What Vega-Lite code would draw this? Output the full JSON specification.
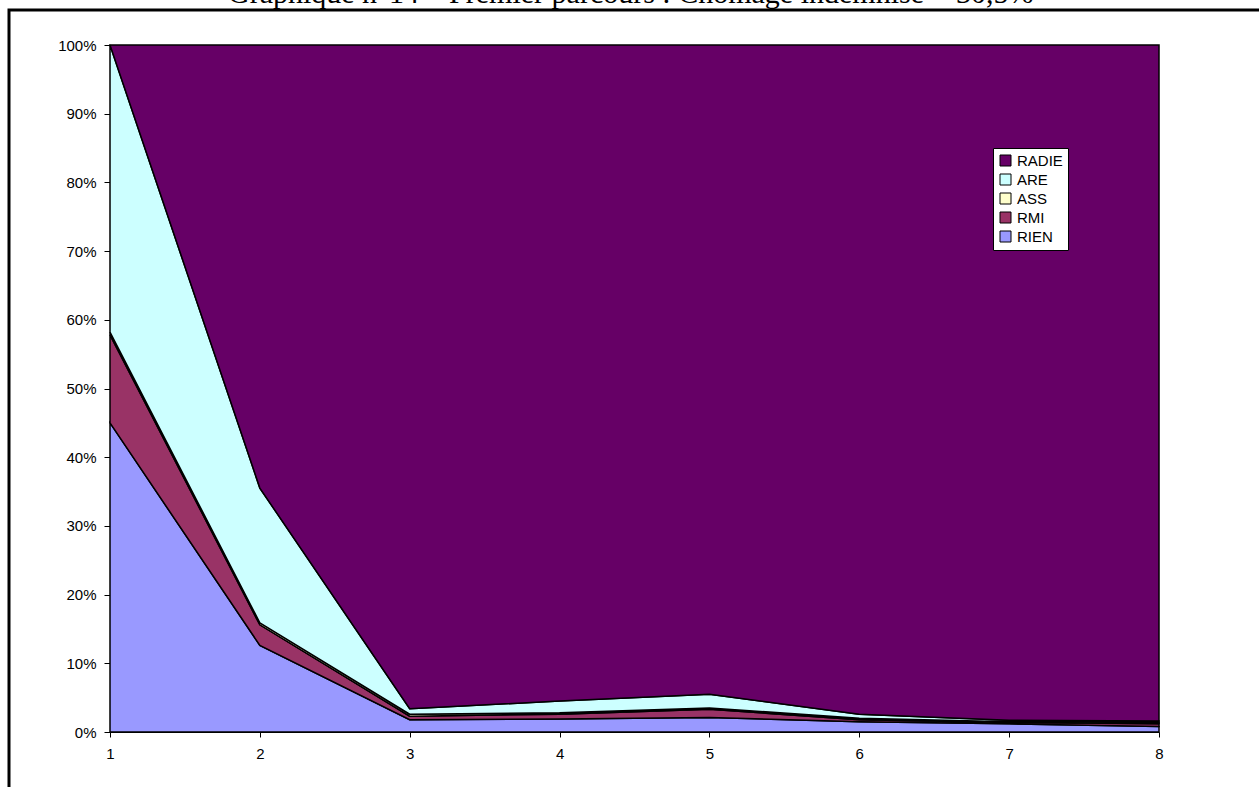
{
  "$schema": "https://vega.github.io/schema/vega-lite/v6.json",
  "width": 1300,
  "height": 800,
  "autosize": {"type": "none"},
  "padding": {"left": 9, "top": 10, "right": 0, "bottom": 0},
  "background": "white",
  "title": {
    "text": "Graphique n°14 – Premier parcours : Chômage indemnisé = 30,5%",
    "font": "Liberation Serif",
    "fontSize": 30,
    "fontWeight": "normal",
    "color": "black",
    "anchor": "start",
    "baseline": "alphabetic",
    "offset": 0,
    "dy": 23,
    "dx": 219
  },
  "data": {
    "values": [
      {"x": 1, "statut": "RIEN", "ordre": 1, "pct": 45.0},
      {"x": 1, "statut": "RMI", "ordre": 2, "pct": 12.8},
      {"x": 1, "statut": "ASS", "ordre": 3, "pct": 0.4},
      {"x": 1, "statut": "ARE", "ordre": 4, "pct": 41.8},
      {"x": 1, "statut": "RADIE", "ordre": 5, "pct": 0.0},
      {"x": 2, "statut": "RIEN", "ordre": 1, "pct": 12.6},
      {"x": 2, "statut": "RMI", "ordre": 2, "pct": 3.0},
      {"x": 2, "statut": "ASS", "ordre": 3, "pct": 0.3},
      {"x": 2, "statut": "ARE", "ordre": 4, "pct": 19.6},
      {"x": 2, "statut": "RADIE", "ordre": 5, "pct": 64.5},
      {"x": 3, "statut": "RIEN", "ordre": 1, "pct": 1.8},
      {"x": 3, "statut": "RMI", "ordre": 2, "pct": 0.5},
      {"x": 3, "statut": "ASS", "ordre": 3, "pct": 0.3},
      {"x": 3, "statut": "ARE", "ordre": 4, "pct": 0.8},
      {"x": 3, "statut": "RADIE", "ordre": 5, "pct": 96.6},
      {"x": 4, "statut": "RIEN", "ordre": 1, "pct": 1.9},
      {"x": 4, "statut": "RMI", "ordre": 2, "pct": 0.7},
      {"x": 4, "statut": "ASS", "ordre": 3, "pct": 0.2},
      {"x": 4, "statut": "ARE", "ordre": 4, "pct": 1.7},
      {"x": 4, "statut": "RADIE", "ordre": 5, "pct": 95.5},
      {"x": 5, "statut": "RIEN", "ordre": 1, "pct": 2.1},
      {"x": 5, "statut": "RMI", "ordre": 2, "pct": 1.2},
      {"x": 5, "statut": "ASS", "ordre": 3, "pct": 0.2},
      {"x": 5, "statut": "ARE", "ordre": 4, "pct": 2.0},
      {"x": 5, "statut": "RADIE", "ordre": 5, "pct": 94.5},
      {"x": 6, "statut": "RIEN", "ordre": 1, "pct": 1.5},
      {"x": 6, "statut": "RMI", "ordre": 2, "pct": 0.3},
      {"x": 6, "statut": "ASS", "ordre": 3, "pct": 0.2},
      {"x": 6, "statut": "ARE", "ordre": 4, "pct": 0.6},
      {"x": 6, "statut": "RADIE", "ordre": 5, "pct": 97.4},
      {"x": 7, "statut": "RIEN", "ordre": 1, "pct": 1.2},
      {"x": 7, "statut": "RMI", "ordre": 2, "pct": 0.2},
      {"x": 7, "statut": "ASS", "ordre": 3, "pct": 0.1},
      {"x": 7, "statut": "ARE", "ordre": 4, "pct": 0.2},
      {"x": 7, "statut": "RADIE", "ordre": 5, "pct": 98.3},
      {"x": 8, "statut": "RIEN", "ordre": 1, "pct": 0.8},
      {"x": 8, "statut": "RMI", "ordre": 2, "pct": 0.4},
      {"x": 8, "statut": "ASS", "ordre": 3, "pct": 0.2},
      {"x": 8, "statut": "ARE", "ordre": 4, "pct": 0.2},
      {"x": 8, "statut": "RADIE", "ordre": 5, "pct": 98.4}
    ]
  },
  "mark": {"type": "area", "stroke": "black", "strokeWidth": 1.5, "interpolate": "linear", "opacity": 1, "fillOpacity": 1},
  "encoding": {
    "x": {
      "field": "x",
      "type": "quantitative",
      "scale": {"domain": [1, 8], "nice": false, "zero": false, "range": [101, 1150]},
      "axis": {
        "title": null,
        "values": [1, 2, 3, 4, 5, 6, 7, 8],
        "format": "d",
        "offset": -78,
        "grid": false,
        "tickSize": 5,
        "labelPadding": 9,
        "labelFont": "Liberation Sans",
        "labelFontSize": 15,
        "labelColor": "black",
        "domainColor": "black",
        "tickColor": "black",
        "labelFlush": false,
        "labelOverlap": false
      }
    },
    "y": {
      "field": "pct",
      "type": "quantitative",
      "stack": "zero",
      "scale": {"domain": [0, 100], "nice": false, "range": [722, 35]},
      "axis": {
        "title": null,
        "values": [0, 10, 20, 30, 40, 50, 60, 70, 80, 90, 100],
        "labelExpr": "datum.value + '%'",
        "offset": -101,
        "grid": false,
        "tickSize": 6,
        "labelPadding": 8,
        "labelFont": "Liberation Sans",
        "labelFontSize": 15,
        "labelColor": "black",
        "domainColor": "black",
        "tickColor": "black",
        "labelFlush": false,
        "labelOverlap": false
      }
    },
    "color": {
      "field": "statut",
      "type": "nominal",
      "scale": {
        "domain": ["RADIE", "ARE", "ASS", "RMI", "RIEN"],
        "range": ["#660066", "#CCFFFF", "#FFFFCC", "#993366", "#9999FF"]
      },
      "legend": {
        "title": null,
        "orient": "none",
        "legendX": 984,
        "legendY": 138,
        "fillColor": "white",
        "strokeColor": "black",
        "padding": 5,
        "symbolType": "square",
        "symbolSize": 121,
        "symbolStrokeColor": "black",
        "symbolStrokeWidth": 1,
        "symbolOpacity": 1,
        "labelFont": "Liberation Sans",
        "labelFontSize": 15,
        "labelColor": "black",
        "labelOffset": 4,
        "rowPadding": 3
      }
    },
    "order": {"field": "ordre", "type": "quantitative"}
  },
  "config": {
    "view": {"stroke": "black", "strokeWidth": 3, "fill": "white"}
  }
}
